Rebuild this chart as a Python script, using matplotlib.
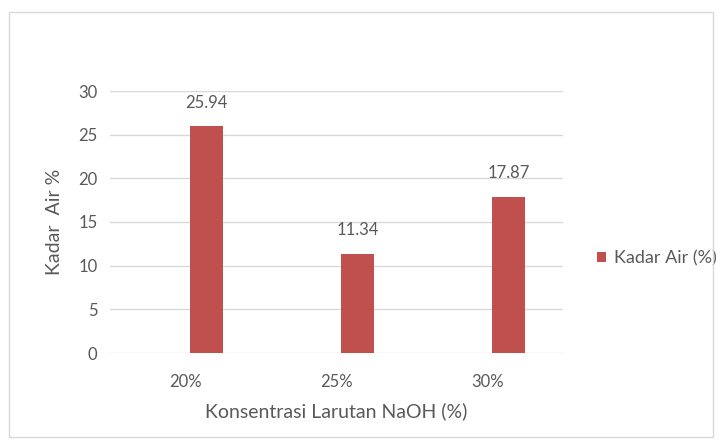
import matplotlib.pyplot as plt
from matplotlib.patches import Rectangle

categories = ["20%", "25%", "30%"]
kadar_air = [25.94, 11.34, 17.87]
value_labels = ["25.94", "11.34", "17.87"]
y_ticks = [0, 5, 10, 15, 20, 25, 30]

text_color = "#595959"
bar_color = "#C0504D"
grid_color = "#D9D9D9"

plt.rcParams["font.family"] = ["Lato", "DejaVu Sans"]

fig = plt.figure(figsize=(7.24, 4.45), dpi=100)
fig.patches.append(Rectangle((9 / 724, 8 / 445), 704 / 724, 425 / 445,
                             transform=fig.transFigure, fill=False,
                             edgecolor="#D9D9D9", linewidth=1))
ax = fig.add_axes([110 / 724, 92 / 445, 453 / 724, 262 / 445])

# bars sit a little right of the category centre, like an Excel cluster
offset = 0.14
x = range(len(categories))
bx = [i + offset for i in x]
ax.bar(bx, kadar_air, width=0.22, color=bar_color, label="Kadar Air (%)", zorder=3)
for i, v in enumerate(kadar_air):
    ax.annotate(value_labels[i], (bx[i], v), xytext=(0, 17), textcoords="offset points",
                ha="center", va="center", fontsize=12, color=text_color)

ax.set_xlim(-0.5, 2.5)
ax.set_ylim(0, 30)
ax.set_yticks(y_ticks)
ax.set_xticks(list(x))
ax.set_xticklabels(categories)
ax.yaxis.grid(True, color=grid_color, linewidth=1, zorder=0)
for s in ax.spines.values():
    s.set_visible(False)
ax.tick_params(axis="both", length=0, labelsize=12, colors=text_color)
ax.tick_params(axis="y", pad=9)
ax.tick_params(axis="x", pad=15)

ax.set_xlabel("Konsentrasi Larutan NaOH (%)", fontsize=14, color=text_color, labelpad=9)
ax.set_ylabel("Kadar  Air %", fontsize=14, color=text_color, labelpad=11)

ax.legend(loc="center left", bbox_to_anchor=(1.075, 0.36), frameon=False,
          borderaxespad=0, borderpad=0,
          fontsize=13, labelcolor=text_color, handlelength=0.5, handleheight=0.5,
          handletextpad=0.45)

fig.savefig("out.png", dpi=100)
